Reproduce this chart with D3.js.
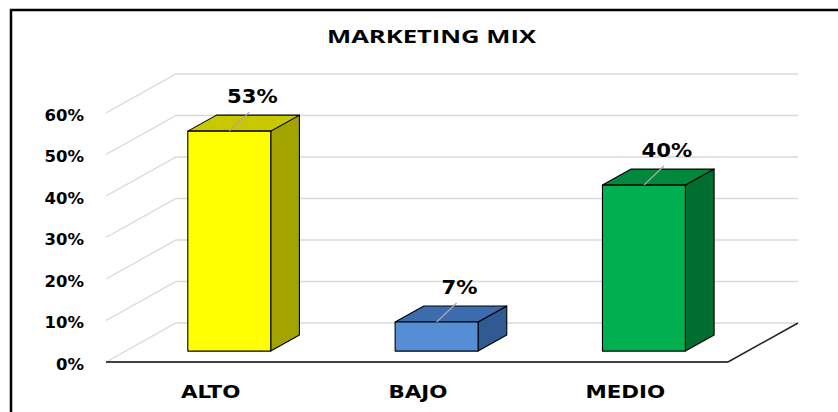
<!DOCTYPE html>
<html>
<head>
<meta charset="utf-8">
<script src="https://cdn.jsdelivr.net/npm/d3@7"></script>
<style>
  html, body { margin: 0; padding: 0; background: #fff; }
  svg { display: block; }
</style>
</head>
<body>
<svg id="chart" width="838" height="412"></svg>
<script>
// Chart data
const categories = ["ALTO", "BAJO", "MEDIO"];
const values = [0.53, 0.07, 0.40];
const valueLabels = ["53%", "7%", "40%"];
const tickValues = [0, 0.1, 0.2, 0.3, 0.4, 0.5, 0.6];
const frontColors = ["#FFFF00", "#558ED5", "#00B050"];
const topColors = ["#C8C800", "#3C6BAE", "#00893D"];
const sideColors = ["#A3A300", "#2F5A92", "#006E30"];

const svg = d3.select("#chart");

// 3D floor geometry: front edge of the floor and the depth offset to the back wall
const floorFrontY = 362;
const floorLeft = 106, floorRight = 728;
const depthDX = 70, depthDY = -39;
const plotH = 249;

const x = d3.scaleBand().domain(categories).range([floorLeft, floorRight]).paddingInner(0).paddingOuter(0);
const y = d3.scaleLinear().domain([0, 0.6]).range([0, plotH]);

// point on a plane parallel to the front, at depth fraction t (0 front, 1 back)
const proj = (px, v, t) => [px + depthDX * t, floorFrontY - y(v) + depthDY * t];

// outer frame
svg.append("path")
  .attr("d", "M11,412 L11,10 L838,10")
  .attr("fill", "none").attr("stroke", "#000").attr("stroke-width", 2.5);

// title (wide bold face)
svg.append("text")
  .attr("x", 327).attr("y", 43)
  .attr("font-family", "'Open Sans', 'Liberation Sans', sans-serif")
  .attr("font-weight", "bold").attr("font-size", 18)
  .attr("textLength", 209).attr("lengthAdjust", "spacingAndGlyphs")
  .attr("fill", "#000")
  .text("MARKETING MIX");

const grid = svg.append("g").attr("fill", "none").attr("stroke", "#d9d9d9").attr("stroke-width", 1.3);
tickValues.forEach(v => {
  const f = proj(floorLeft, v, 0);
  const b = proj(floorLeft, v, 1);
  const br = proj(floorRight, v, 1);
  grid.append("path").attr("d", `M${f[0]},${f[1]} L${b[0]},${b[1]} L${br[0]},${br[1]}`);
});

// floor outline (front and right edges)
{
  const fl = proj(floorLeft, 0, 0), fr = proj(floorRight, 0, 0), br = proj(floorRight, 0, 1);
  svg.append("path")
    .attr("d", `M${fl[0]},${fl[1]} L${fr[0]},${fr[1]}`)
    .attr("stroke", "#404040").attr("stroke-width", 2.2).attr("fill", "none");
  svg.append("path")
    .attr("d", `M${fr[0]},${fr[1]} L${br[0]},${br[1]}`)
    .attr("stroke", "#262626").attr("stroke-width", 1.6).attr("fill", "none");
}

// y-axis tick labels
svg.append("g").selectAll("text")
  .data(tickValues).join("text")
  .attr("transform", d => `translate(84,${floorFrontY - y(d) + 7.5}) scale(1.1,1)`)
  .attr("text-anchor", "end")
  .attr("font-family", "'DejaVu Sans', Verdana, sans-serif")
  .attr("font-weight", "bold").attr("font-size", 15)
  .attr("fill", "#000")
  .text(d => d3.format(".0%")(d));

// category labels (horizontally widened bold face)
svg.append("g").selectAll("text")
  .data(categories).join("text")
  .attr("transform", d => `translate(${x(d) + x.bandwidth() / 2 + 1},398) scale(1.26,1)`)
  .attr("text-anchor", "middle")
  .attr("font-family", "'DejaVu Sans', Verdana, sans-serif")
  .attr("font-weight", "bold").attr("font-size", 17)
  .attr("fill", "#000")
  .text(d => d);

// bars
const tFront = 0.28, tBack = 0.69;
const barW = x.bandwidth() * 0.4;
const bars = svg.append("g").attr("stroke", "#000").attr("stroke-width", 1.1).attr("stroke-linejoin", "round");

categories.forEach((c, i) => {
  const cx = x(c) + x.bandwidth() / 2;
  const x0 = cx - barW / 2, x1 = cx + barW / 2;
  const v = values[i];
  const fbl = proj(x0, 0, tFront), fbr = proj(x1, 0, tFront);
  const ftl = proj(x0, v, tFront), ftr = proj(x1, v, tFront);
  const btl = proj(x0, v, tBack), btr = proj(x1, v, tBack), bbr = proj(x1, 0, tBack);
  const poly = pts => "M" + pts.map(p => p.join(",")).join("L") + "Z";
  bars.append("path").attr("d", poly([fbr, ftr, btr, bbr])).attr("fill", sideColors[i]);
  bars.append("path").attr("d", poly([ftl, ftr, btr, btl])).attr("fill", topColors[i]);
  bars.append("path").attr("d", poly([fbl, fbr, ftr, ftl])).attr("fill", frontColors[i]);

  // leader line and value label
  const mid = proj(cx, v, tFront);
  svg.append("path")
    .attr("d", `M${mid[0]},${mid[1]} L${mid[0] + 20},${mid[1] - 19}`)
    .attr("stroke", "#a6a6a6").attr("stroke-width", 1.3);
  svg.append("text")
    .attr("transform", `translate(${mid[0] + 23},${mid[1] - 28}) scale(1.06,1)`)
    .attr("text-anchor", "middle")
    .attr("font-family", "'DejaVu Sans', Verdana, sans-serif")
    .attr("font-weight", "bold").attr("font-size", 20)
    .attr("fill", "#000")
    .text(valueLabels[i]);
});
</script>
</body>
</html>
